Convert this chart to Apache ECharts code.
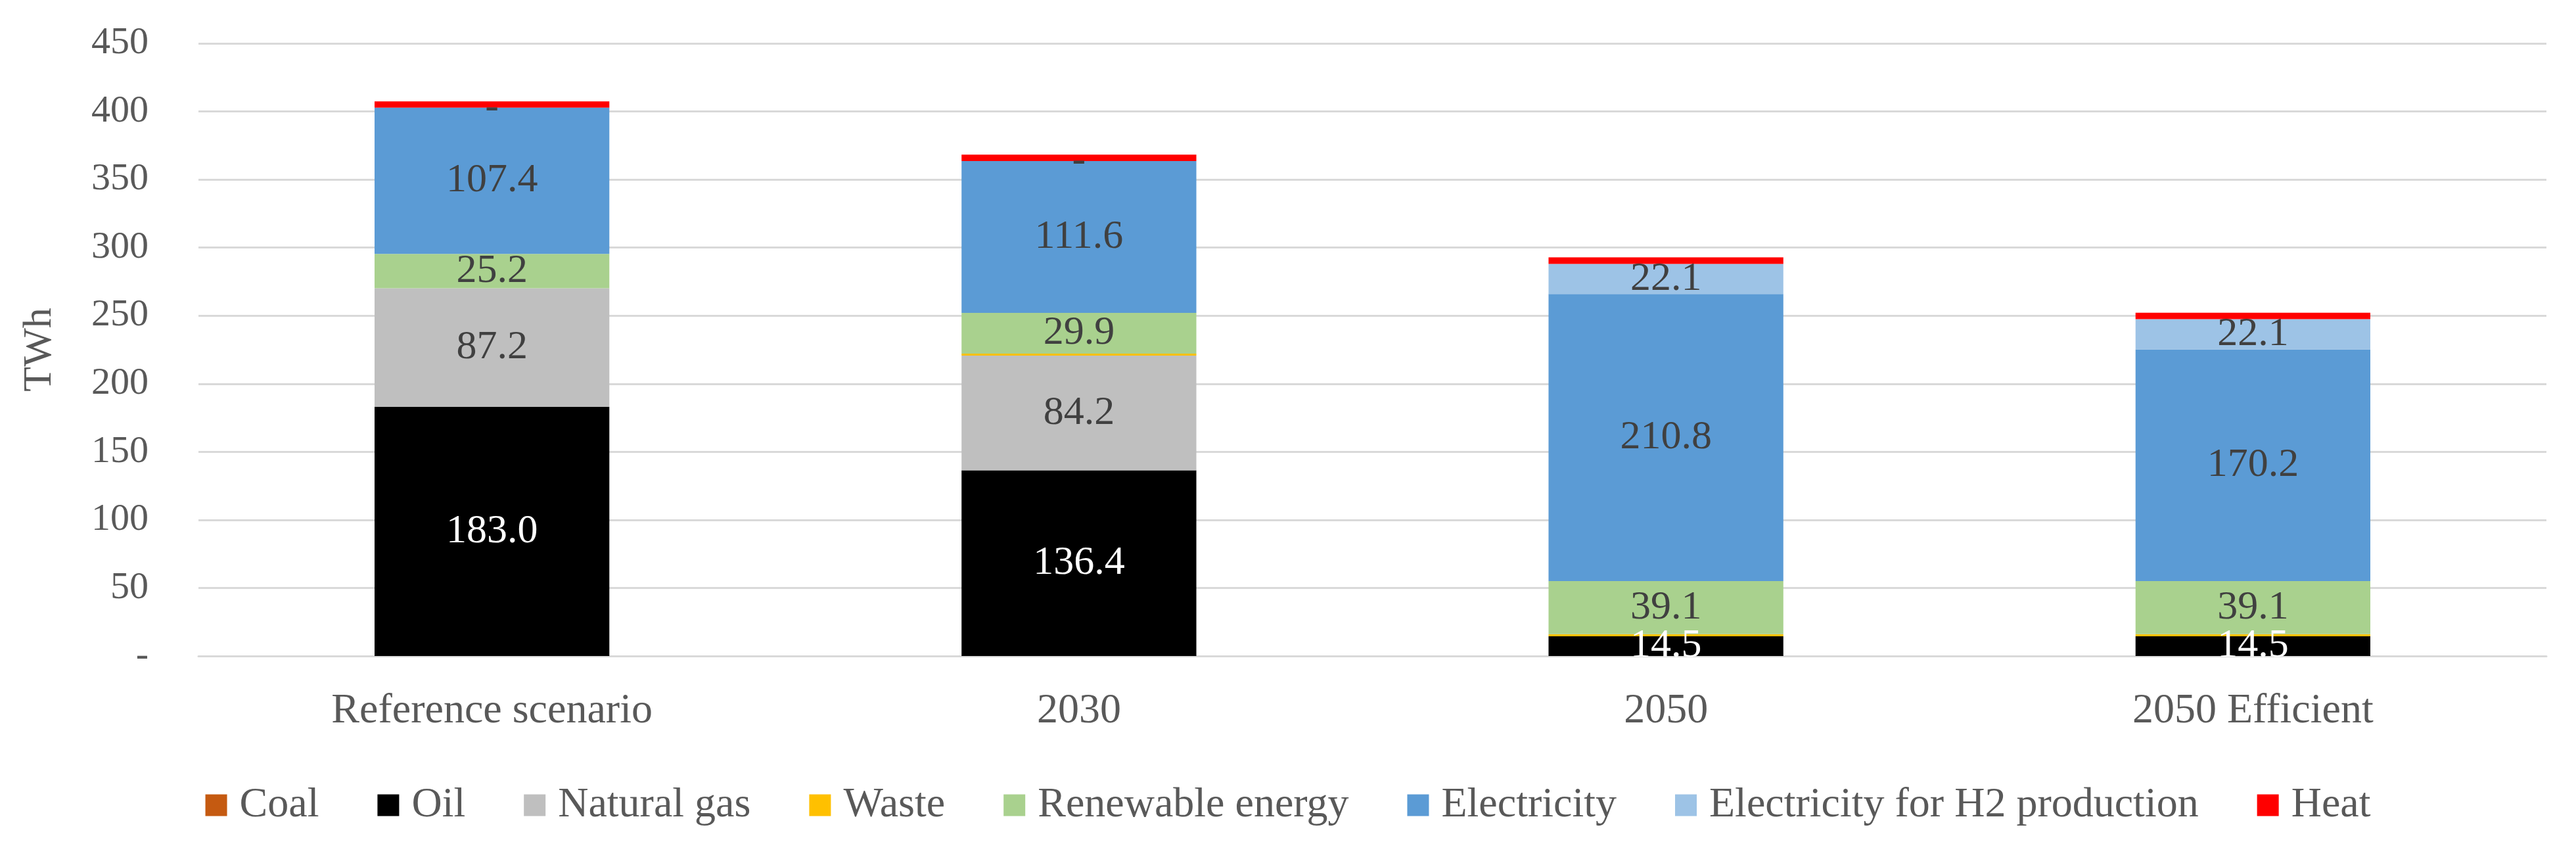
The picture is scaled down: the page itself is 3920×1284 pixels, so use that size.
<!DOCTYPE html>
<html>
<head>
<meta charset="utf-8">
<script src="https://cdn.jsdelivr.net/npm/echarts@6/dist/echarts.min.js"></script>
<style>
html,body{margin:0;padding:0;background:#fff;}
#chart{width:3920px;height:1284px;}
</style>
</head>
<body>
<div id="chart"></div>
<script>
const categories = ['Reference scenario', '2030', '2050', '2050 Efficient'];
const coal        = [0, 0, 0, 0];
const oil         = [183.0, 136.4, 14.5, 14.5];
const naturalGas  = [87.2, 84.2, 0, 0];
const waste       = [0, 1.5, 1.5, 1.5];
const renewable   = [25.2, 29.9, 39.1, 39.1];
const electricity = [107.4, 111.6, 210.8, 170.2];
const elecH2      = [0, 0, 22.1, 22.1];
const heat        = [4.6, 4.7, 4.8, 4.7];
const yTicks = {min: 0, max: 450, interval: 50};

const FONT = 'Liberation Serif';
const TXT = '#595959';

function mk(name, data, color, labelColor, zeroDash) {
  const s = {
    name: name, type: 'bar', stack: 'total', data: data,
    barWidth: '40%',
    itemStyle: {color: color},
    emphasis: {disabled: true},
    label: {show: false}
  };
  if (labelColor) {
    s.label = {
      show: true, position: 'inside', color: labelColor,
      fontFamily: FONT, fontSize: 62,
      formatter: function (p) {
        if (p.value === 0) return zeroDash ? '-' : '';
        return p.value.toFixed(1);
      }
    };
  }
  return s;
}

const chart = echarts.init(document.getElementById('chart'));
chart.setOption({
  animation: false,
  backgroundColor: '#fff',
  grid: {left: 302, right: 45, top: 66, bottom: 286, containLabel: false},
  legend: {
    bottom: 22, left: 'center',
    itemWidth: 33, itemHeight: 33, itemGap: 89,
    icon: 'rect',
    textStyle: {fontFamily: FONT, fontSize: 64, color: TXT, padding: [0, 0, 0, 14]},
    data: ['Coal', 'Oil', 'Natural gas', 'Waste', 'Renewable energy', 'Electricity', 'Electricity for H2 production', 'Heat']
  },
  xAxis: {
    type: 'category', data: categories,
    axisLine: {show: true, lineStyle: {color: '#d9d9d9', width: 3}},
    axisTick: {show: false},
    axisLabel: {fontFamily: FONT, fontSize: 64, color: TXT, margin: 52}
  },
  yAxis: {
    type: 'value', min: yTicks.min, max: yTicks.max, interval: yTicks.interval,
    name: 'TWh', nameLocation: 'middle', nameRotate: 90, nameGap: 210,
    nameTextStyle: {fontFamily: FONT, fontSize: 62, color: TXT},
    axisLine: {show: false}, axisTick: {show: false},
    splitLine: {lineStyle: {color: '#d9d9d9', width: 3}},
    axisLabel: {fontFamily: FONT, fontSize: 58, color: TXT, margin: 76,
      formatter: function (v) { return v === 0 ? '-' : String(v); }}
  },
  series: [
    mk('Coal', coal, '#C55A11', null),
    mk('Oil', oil, '#000000', '#ffffff', false),
    mk('Natural gas', naturalGas, '#BFBFBF', '#404040', false),
    mk('Waste', waste, '#FFC000', null),
    mk('Renewable energy', renewable, '#A9D18E', '#404040', false),
    mk('Electricity', electricity, '#5B9BD5', '#404040', false),
    mk('Electricity for H2 production', elecH2, '#9DC3E6', '#404040', true),
    mk('Heat', heat, '#FF0000', null)
  ]
});
</script>
</body>
</html>
